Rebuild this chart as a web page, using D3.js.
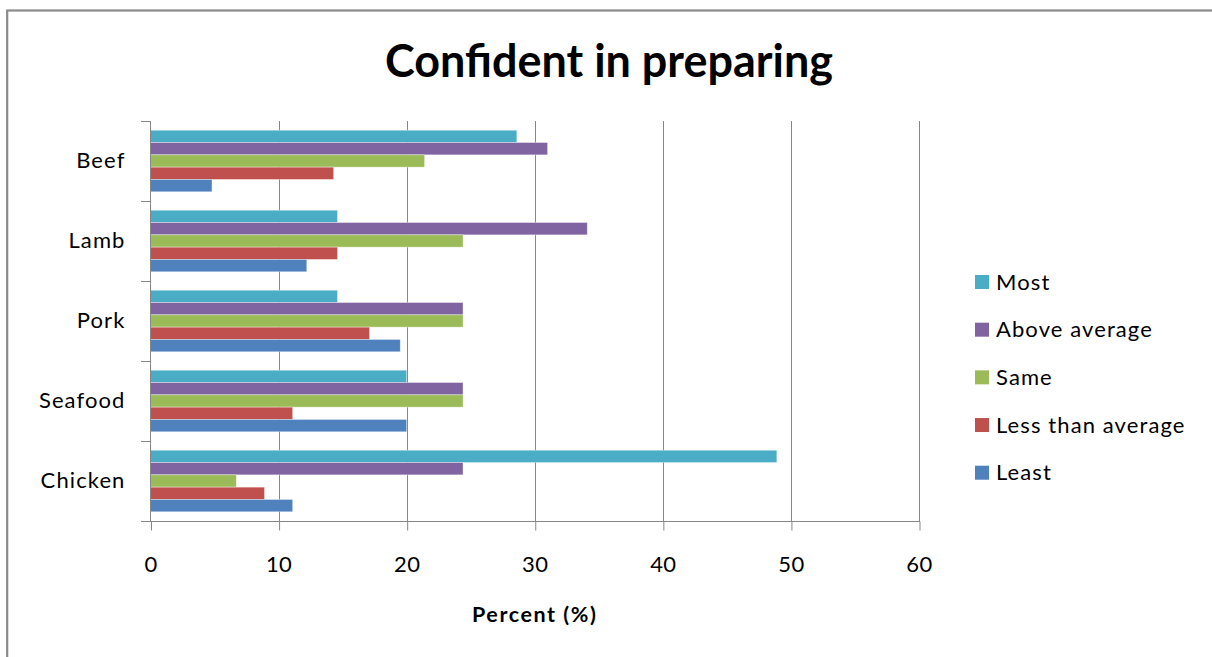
<!DOCTYPE html>
<html>
<head>
<meta charset="utf-8">
<script src="https://cdn.jsdelivr.net/npm/d3@7"></script>
<style>
  html, body { margin: 0; padding: 0; background: #fff; }
  svg { display: block; }
  text { font-family: Lato, "Open Sans", sans-serif; fill: #000; }
</style>
</head>
<body>
<svg id="chart" width="1212" height="657"></svg>
<script>
const categories = ["Beef", "Lamb", "Pork", "Seafood", "Chicken"];
const seriesNames = ["Most", "Above average", "Same", "Less than average", "Least"];
const seriesColors = ["#4BACC6", "#8064A2", "#9BBB59", "#C0504D", "#4F81BD"];
const most = [28.6, 14.6, 14.6, 20.0, 48.9];
const aboveAverage = [31.0, 34.1, 24.4, 24.4, 24.4];
const same = [21.4, 24.4, 24.4, 24.4, 6.7];
const lessThanAverage = [14.3, 14.6, 17.1, 11.1, 8.9];
const least = [4.8, 12.2, 19.5, 20.0, 11.1];
const xTicks = [0, 10, 20, 30, 40, 50, 60];
const titleText = "Confident in preparing";
const xAxisTitle = "Percent (%)";

const seriesValues = [most, aboveAverage, same, lessThanAverage, least];

const svg = d3.select("#chart");
const W = 1212, H = 657;
const labelFont = "22px";
const labelSpacing = "1.1px";

svg.append("rect").attr("x", 0).attr("y", 0).attr("width", W).attr("height", H).attr("fill", "#fff");
// chart frame (extends beyond the visible window right/bottom)
svg.append("rect")
  .attr("x", 7.2).attr("y", 10.5)
  .attr("width", 1230).attr("height", 680)
  .attr("fill", "none").attr("stroke", "#8a8a8a").attr("stroke-width", 2.2);

const plot = { left: 150.5, right: 919, top: 121, bottom: 521 };

const x = d3.scaleLinear().domain([0, 60]).range([plot.left, plot.right]);
const y = d3.scaleBand().domain(categories).range([plot.top, plot.bottom]).padding(0);
const ys = d3.scaleBand().domain(seriesNames).range([0, y.bandwidth()])
  .paddingInner(0).paddingOuter(0.75);
const color = d3.scaleOrdinal().domain(seriesNames).range(seriesColors);

const gridColor = "#878787";

// vertical gridlines
svg.append("g").selectAll("line")
  .data(xTicks.filter(d => d > 0))
  .join("line")
  .attr("x1", d => Math.round(x(d)) + 0.5).attr("x2", d => Math.round(x(d)) + 0.5)
  .attr("y1", plot.top).attr("y2", plot.bottom)
  .attr("stroke", gridColor).attr("stroke-width", 1);

// bars
const rows = [];
categories.forEach((c, ci) => {
  seriesNames.forEach((s, si) => {
    rows.push({ cat: c, series: s, value: seriesValues[si][ci] });
  });
});

svg.append("g").selectAll("rect")
  .data(rows)
  .join("rect")
  .attr("x", x(0))
  .attr("y", d => y(d.cat) + ys(d.series))
  .attr("width", d => x(d.value) - x(0))
  .attr("height", ys.bandwidth())
  .attr("fill", d => color(d.series))
  .attr("stroke", "rgba(255,255,255,0.45)")
  .attr("stroke-width", 0.8);

// bottom axis
const xAxis = d3.axisBottom(x).tickValues(xTicks).tickSize(9).tickSizeOuter(0).tickPadding(26)
  .tickFormat(d3.format("d"));
const gx = svg.append("g").attr("transform", `translate(0,${plot.bottom + 0.5})`).call(xAxis);
gx.select(".domain").remove();
gx.append("line").attr("x1", 141).attr("x2", plot.right + 1).attr("y1", 0).attr("y2", 0)
  .attr("stroke", gridColor).attr("stroke-width", 1);
gx.selectAll(".tick line").attr("stroke", gridColor)
  .attr("transform", "translate(0.5,0)");
gx.selectAll(".tick text").style("font-size", labelFont).style("font-family", "Lato, sans-serif")
  .style("letter-spacing", "0.4px").attr("fill", "#000");

// left axis: labels at band centers, tick marks at band boundaries
const yAxis = d3.axisLeft(y).tickSize(0).tickPadding(25);
const gy = svg.append("g").attr("transform", `translate(${plot.left},0)`).call(yAxis);
gy.select(".domain").remove();
gy.selectAll(".tick text").style("font-size", labelFont).style("font-family", "Lato, sans-serif")
  .style("letter-spacing", labelSpacing).attr("fill", "#000");
svg.append("line").attr("x1", plot.left).attr("x2", plot.left)
  .attr("y1", plot.top).attr("y2", plot.bottom)
  .attr("stroke", gridColor).attr("stroke-width", 1);
const boundaries = categories.map(c => y(c)).concat([y.range()[1]]);
svg.append("g").selectAll("line")
  .data(boundaries)
  .join("line")
  .attr("x1", 141).attr("x2", plot.left)
  .attr("y1", d => d + 0.5).attr("y2", d => d + 0.5)
  .attr("stroke", gridColor).attr("stroke-width", 1);

function fitSpacing(sel, target) {
  const n = sel.text().length;
  const w = sel.node().getComputedTextLength();
  sel.style("letter-spacing", ((target - w) / Math.max(1, n - 1)).toFixed(2) + "px");
}

// title
const title = svg.append("text")
  .attr("x", 609).attr("y", 77)
  .attr("text-anchor", "middle")
  .style("font-weight", "bold").style("font-size", "38px")
  .text(titleText);
{
  const w = title.node().getComputedTextLength();
  title.style("font-size", (38 * 448 / w).toFixed(2) + "px");
}

// x-axis title
const xt = svg.append("text")
  .attr("x", (plot.left + plot.right) / 2).attr("y", 622)
  .attr("text-anchor", "middle")
  .style("font-weight", "bold").style("font-size", "21.5px")
  .text(xAxisTitle);
fitSpacing(xt, 124);

// legend
const legend = svg.append("g");
const legendY = d3.scalePoint().domain(seriesNames).range([282, 472.7]);
const li = legend.selectAll("g").data(seriesNames).join("g")
  .attr("transform", d => `translate(975,${legendY(d)})`);
li.append("rect").attr("x", 0).attr("y", -7).attr("width", 14).attr("height", 14)
  .attr("fill", d => color(d));
li.append("text").attr("x", 21).attr("y", 7.5)
  .style("font-size", labelFont).style("letter-spacing", labelSpacing)
  .text(d => d);
</script>
</body>
</html>
